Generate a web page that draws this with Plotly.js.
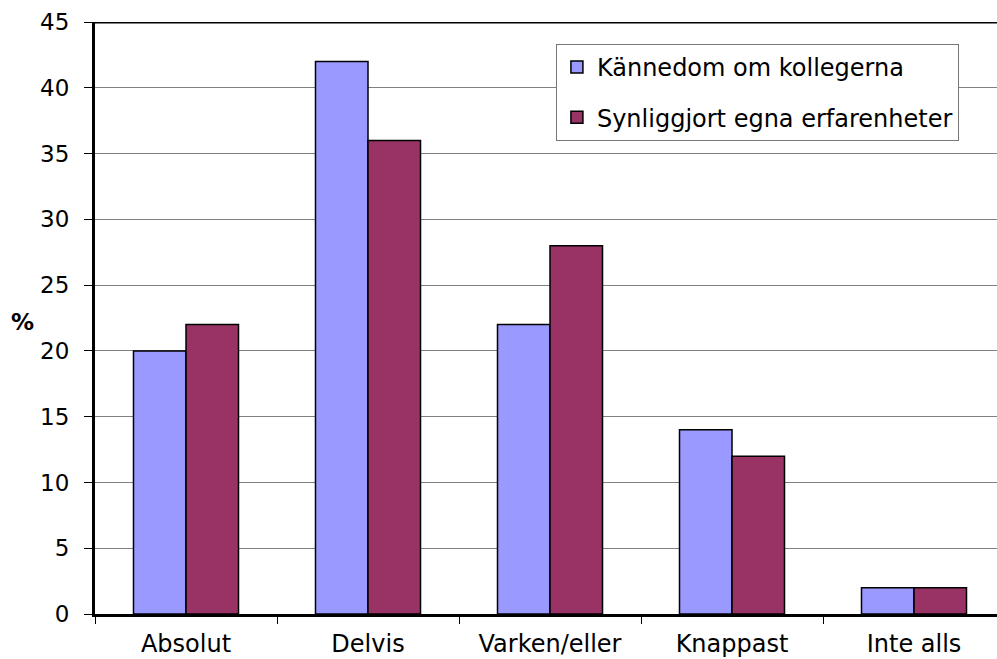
<!DOCTYPE html>
<html><head><meta charset="utf-8">
<script src="https://cdn.plot.ly/plotly-3.0.1.min.js"></script>
<style>html,body{margin:0;padding:0;background:#fff}</style>
</head><body><div id="chart" style="width:997px;height:659px"></div>
<script>
const categories = ["Absolut", "Delvis", "Varken/eller", "Knappast", "Inte alls"];
const seriesNames = ["Kännedom om kollegerna", "Synliggjort egna erfarenheter"];
const kannedom = [20, 42, 22, 14, 2];
const synliggjort = [22, 36, 28, 12, 2];
const yTicks = [0, 5, 10, 15, 20, 25, 30, 35, 40, 45];

const fam = "DejaVu Sans, Liberation Sans, Arial, sans-serif";
const font = {family: fam, size: 23, color: "#000"};
const wideFont = {family: fam, size: 24, color: "#000"};
const traces = [
  {type: "bar", name: seriesNames[0], x: categories, y: kannedom, legendgroup: "a",
   marker: {color: "#9999FF", line: {color: "#000", width: 1.5}}},
  {type: "bar", name: seriesNames[1], x: categories, y: synliggjort, legendgroup: "b",
   marker: {color: "#993366", line: {color: "#000", width: 1.5}}}
];
const layout = {
  width: 997, height: 659,
  margin: {l: 95, r: 0, t: 22, b: 45},
  paper_bgcolor: "#fff", plot_bgcolor: "#fff",
  font: font,
  bargap: 0.423, bargroupgap: 0,
  showlegend: true,
  legend: {x: 0.511, y: 0.963, xanchor: "left", yanchor: "top",
    bordercolor: "#777", borderwidth: 1, bgcolor: "#fff",
    font: wideFont,
    traceorder: "grouped", tracegroupgap: 16},
  xaxis: {type: "category", range: [-0.5, 4.456], tickson: "boundaries",
    ticks: "outside", ticklen: 7, tickcolor: "#000", tickwidth: 1,
    showline: true, linecolor: "#000", linewidth: 3, showgrid: false,
    tickfont: wideFont, ticklabelstandoff: 6, fixedrange: true},
  yaxis: {range: [0, 45], tickvals: yTicks, ticks: "outside", ticklen: 8,
    tickcolor: "#000", tickwidth: 1, showline: true, linecolor: "#000", linewidth: 3,
    showgrid: true, gridcolor: "#808080", gridwidth: 1, zeroline: false,
    tickfont: font, ticklabelstandoff: 10},
  shapes: [{type: "line", xref: "paper", yref: "y", x0: 0, x1: 1, y0: 45, y1: 45,
    line: {color: "#000", width: 3}}],
  annotations: [{text: "<b>%</b>", xref: "paper", yref: "paper",
    x: (22 - 95) / 902, y: (614 - 322) / 592, xanchor: "center", yanchor: "middle",
    showarrow: false, font: font}]
};
Plotly.newPlot("chart", traces, layout, {displayModeBar: false, staticPlot: true});
</script></body></html>
